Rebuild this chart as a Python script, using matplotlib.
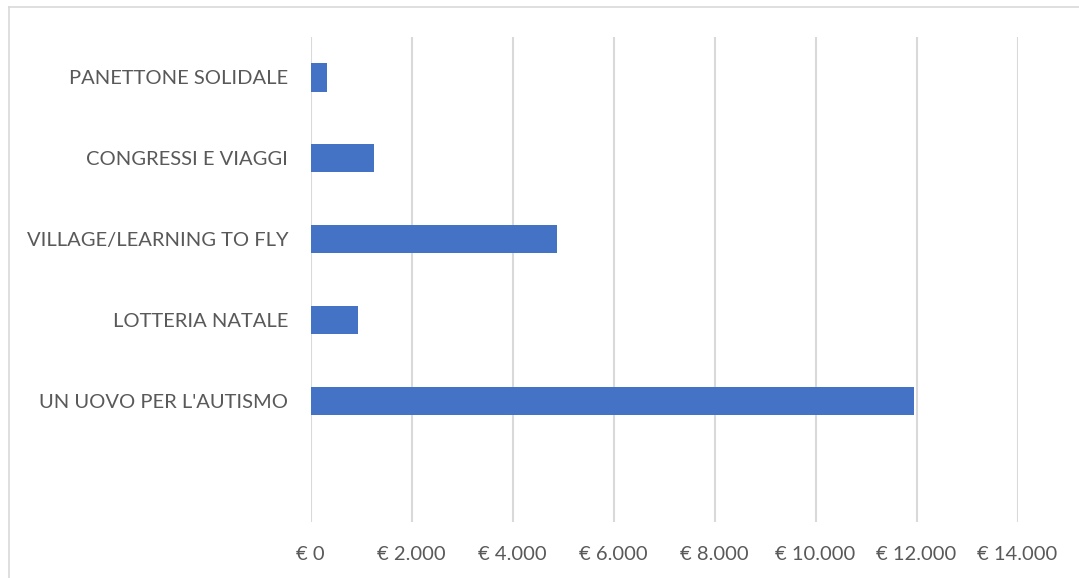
import matplotlib
matplotlib.use('Agg')
import matplotlib.pyplot as plt
from matplotlib.ticker import FuncFormatter
from matplotlib.lines import Line2D

# categories from bottom to top (the bottom slot is empty in the source chart)
categories = ['', "UN UOVO PER L'AUTISMO", 'LOTTERIA NATALE',
              'VILLAGE/LEARNING TO FLY', 'CONGRESSI E VIAGGI', 'PANETTONE SOLIDALE']
values = [0, 11950, 940, 4880, 1260, 325]
x_ticks = [0, 2000, 4000, 6000, 8000, 10000, 12000, 14000]

text_color = '#595959'
grid_color = '#d9d9d9'
bar_color = '#4472c4'

plt.rcParams['font.family'] = ['Lato', 'DejaVu Sans']

fig = plt.figure(figsize=[10.79, 5.78], dpi=100)
ax = fig.add_axes([310.5 / 1079, 56 / 578, 707 / 1079, 485 / 578])

y = list(range(len(categories)))
ax.barh(y, values, height=0.35, color=bar_color, zorder=3)

ax.set_xlim(0, 14000)
ax.set_ylim(-0.5, len(categories) - 0.5)
ax.set_xticks(x_ticks)
ax.xaxis.set_major_formatter(FuncFormatter(lambda v, p: '€ ' + f'{int(v):,}'.replace(',', '.')))
ax.set_yticks(y)
ax.set_yticklabels(categories)

ax.grid(axis='x', color=grid_color, linewidth=1.5, zorder=0)
for s in ax.spines.values():
    s.set_visible(False)
ax.tick_params(axis='both', length=0, colors=text_color, labelsize=14.5)
ax.tick_params(axis='y', pad=16)
ax.tick_params(axis='x', pad=17)

# outer chart border (only top and left visible in the crop)
fig.add_artist(Line2D([9 / 1079, 9 / 1079], [0, 1 - 7 / 578], transform=fig.transFigure,
                      color=grid_color, linewidth=1.2))
fig.add_artist(Line2D([9 / 1079, 1], [1 - 7 / 578, 1 - 7 / 578], transform=fig.transFigure,
                      color=grid_color, linewidth=1.2))

fig.savefig('out.png', dpi=100)
